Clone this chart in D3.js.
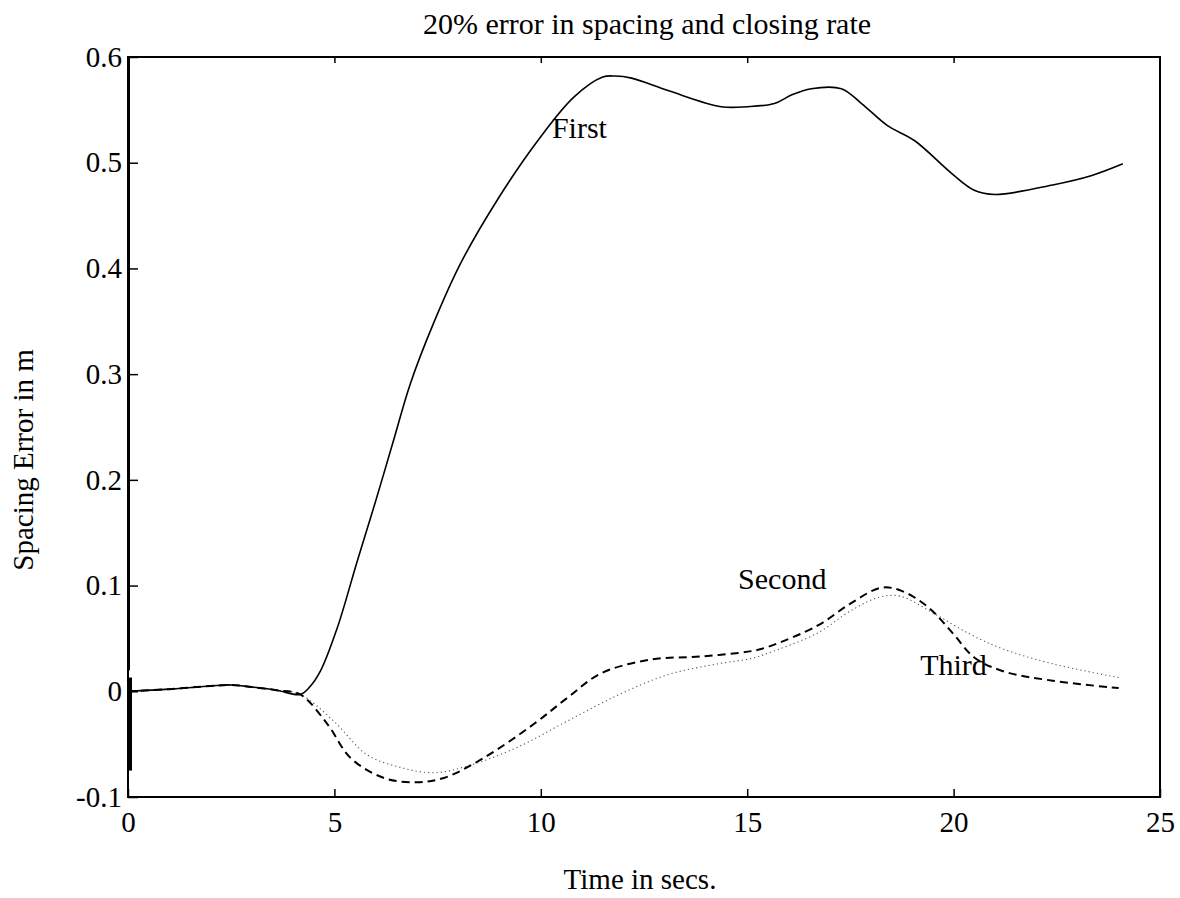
<!DOCTYPE html>
<html>
<head>
<meta charset="utf-8">
<script src="https://cdn.jsdelivr.net/npm/d3@7"></script>
<style>
  html, body { margin: 0; padding: 0; background: #fff; }
  svg { display: block; }
  text { font-family: "Liberation Serif", "Times New Roman", serif; fill: #000; }
</style>
</head>
<body>
<svg id="chart" width="1180" height="898"></svg>
<script>
// ---- data ----
const title = "20% error in spacing and closing rate";
const xLabel = "Time in secs.";
const yLabel = "Spacing Error in m";
const xTicks = [0, 5, 10, 15, 20, 25];
const yTicks = [-0.1, 0, 0.1, 0.2, 0.3, 0.4, 0.5, 0.6];

const tFirst = [0, 1, 2, 2.5, 3, 3.6, 4.17, 4.4, 4.66, 5.07, 5.56, 6.0, 6.43, 6.84, 7.4, 8.06, 8.95, 9.93, 10.8, 11.5, 11.8, 12.2, 13.1, 14.37, 15.0, 15.66, 16.07, 16.55, 17.28, 17.77, 18.4, 19.05, 19.95, 20.5, 21.0, 22.4, 23.35, 24.1];
const vFirst = [0, 0.002, 0.005, 0.006, 0.004, 0.001, -0.003, 0.004, 0.019, 0.060, 0.124, 0.180, 0.237, 0.291, 0.348, 0.405, 0.465, 0.521, 0.562, 0.581, 0.582, 0.580, 0.568, 0.553, 0.553, 0.556, 0.564, 0.570, 0.570, 0.556, 0.535, 0.521, 0.490, 0.474, 0.470, 0.479, 0.488, 0.499];

const tSecond = [0, 1, 2, 2.5, 3, 3.6, 4.17, 4.83, 5.39, 6.2, 7.0, 7.65, 8.62, 9.83, 10.65, 11.46, 12.67, 13.9, 15.1, 15.5, 16.7, 17.5, 18.25, 18.74, 19.4, 20.0, 20.5, 21.2, 22.4, 24.0];
const vSecond = [0, 0.002, 0.005, 0.006, 0.004, 0.001, -0.003, -0.031, -0.063, -0.082, -0.086, -0.082, -0.063, -0.031, -0.006, 0.017, 0.030, 0.033, 0.038, 0.042, 0.062, 0.083, 0.098, 0.095, 0.079, 0.054, 0.032, 0.019, 0.010, 0.003];

const tThird = [0, 1, 2, 2.5, 3, 3.6, 4.17, 4.98, 5.79, 6.6, 7.4, 8.2, 9.43, 10.65, 11.9, 13.1, 14.3, 15.1, 15.5, 16.7, 17.5, 18.2, 18.7, 19.55, 20.4, 21.2, 22.4, 24.0];
const vThird = [0, 0.002, 0.005, 0.006, 0.004, 0.001, -0.003, -0.028, -0.060, -0.072, -0.077, -0.071, -0.053, -0.028, -0.003, 0.016, 0.026, 0.031, 0.036, 0.055, 0.076, 0.089, 0.090, 0.073, 0.054, 0.040, 0.026, 0.013];

const tTransient = [0, 0];
const vTransient = [0.013, -0.075];

const seriesLabels = ["First", "Second", "Third"];
const labelT = [10.27, 14.78, 19.19];
const labelV = [0.5235, 0.097, 0.0154];

// ---- layout ----
const svg = d3.select("#chart");
const x = d3.scaleLinear().domain([0, 25]).range([128, 1160]);
const y = d3.scaleLinear().domain([-0.1, 0.6]).range([797, 57]);
const fs = 29;
const fsLabel = 30;

const line = d3.line().x(d => x(d[0])).y(d => y(d[1])).curve(d3.curveCatmullRom.alpha(0.5));
const zip = (a, b) => a.map((t, i) => [t, b[i]]);

// frame
svg.append("rect")
  .attr("x", x(0)).attr("y", y(0.6))
  .attr("width", x(25) - x(0)).attr("height", y(-0.1) - y(0.6))
  .attr("fill", "none").attr("stroke", "#000").attr("stroke-width", 2);
svg.append("line")
  .attr("x1", x(0) + 1).attr("x2", x(0) + 1).attr("y1", y(0.6)).attr("y2", y(0.02))
  .attr("stroke", "#000").attr("stroke-width", 2);

// axes (inward ticks)
const fmtY = d => d === 0 ? "0" : d.toFixed(1);
const gBottom = svg.append("g").attr("transform", `translate(0,${y(-0.1)})`)
  .call(d3.axisBottom(x).tickValues(xTicks).tickSize(-8).tickPadding(14).tickFormat(d3.format("d")));
const gTop = svg.append("g").attr("transform", `translate(0,${y(0.6)})`)
  .call(d3.axisTop(x).tickValues(xTicks.slice(1, 5)).tickSize(-6).tickFormat(""));
const gLeft = svg.append("g").attr("transform", `translate(${x(0)},0)`)
  .call(d3.axisLeft(y).tickValues(yTicks).tickSize(-10).tickPadding(6).tickFormat(fmtY));

[gBottom, gTop, gLeft].forEach(g => {
  g.select(".domain").remove();
  g.selectAll(".tick line").attr("stroke", "#000").attr("stroke-width", 1.5);
  g.selectAll("text").attr("font-size", fs).attr("font-family", "Liberation Serif, serif").attr("fill", "#000");
});

// series
svg.append("path").datum(zip(tThird, vThird)).attr("d", line)
  .attr("fill", "none").attr("stroke", "#555").attr("stroke-width", 1.1).attr("stroke-dasharray", "1.2,3");
svg.append("path").datum(zip(tSecond, vSecond)).attr("d", line)
  .attr("fill", "none").attr("stroke", "#000").attr("stroke-width", 2).attr("stroke-dasharray", "8,5");
svg.append("path").datum(zip(tFirst, vFirst)).attr("d", line)
  .attr("fill", "none").attr("stroke", "#000").attr("stroke-width", 1.6);
svg.append("path").datum(zip(tTransient, vTransient)).attr("d", d3.line().x(d => x(d[0]) + 2).y(d => y(d[1])))
  .attr("fill", "none").attr("stroke", "#000").attr("stroke-width", 4);

// series labels
svg.selectAll("text.slabel").data(seriesLabels).join("text")
  .attr("class", "slabel")
  .attr("x", (d, i) => x(labelT[i])).attr("y", (d, i) => y(labelV[i]))
  .attr("font-size", fsLabel).text(d => d);

// titles
svg.append("text").attr("x", 647).attr("y", 34).attr("text-anchor", "middle")
  .attr("font-size", fsLabel).text(title);
svg.append("text").attr("x", 640).attr("y", 889).attr("text-anchor", "middle")
  .attr("font-size", fs).text(xLabel);
svg.append("text").attr("transform", "translate(33,460) rotate(-90)").attr("text-anchor", "middle")
  .attr("font-size", fs).text(yLabel);
</script>
</body>
</html>
